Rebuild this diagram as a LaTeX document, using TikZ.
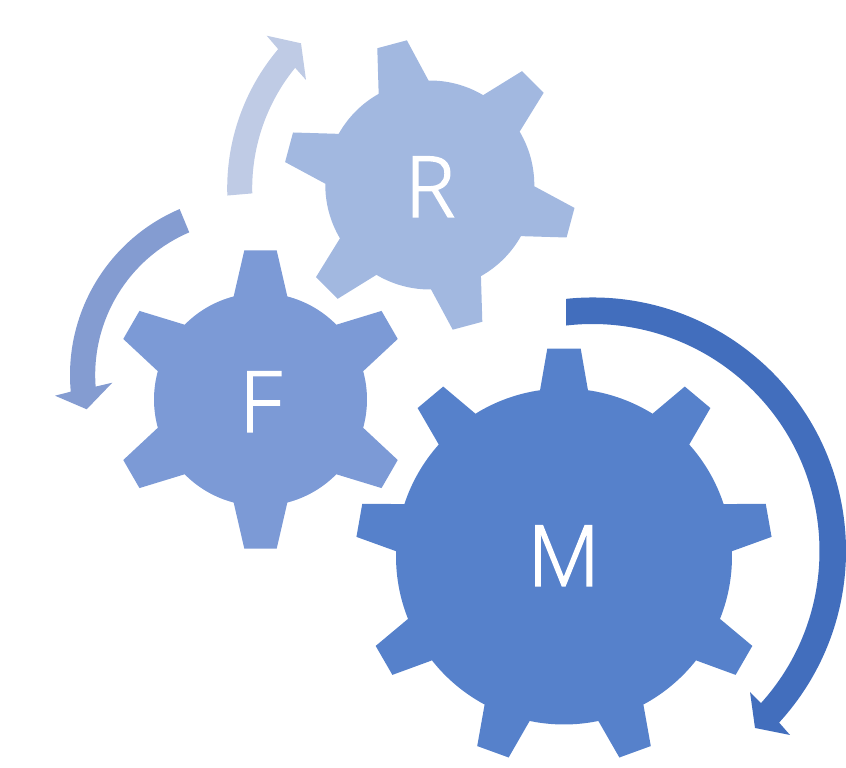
\documentclass[tikz,border=0pt]{standalone}
\usepackage{fontspec}
\setmainfont{Open Sans Light}[FakeBold=2]
\definecolor{gearM}{HTML}{5681CB}
\definecolor{gearF}{HTML}{7C9AD6}
\definecolor{gearR}{HTML}{A2B8E0}
\definecolor{arrM}{HTML}{426EBD}
\definecolor{arrF}{HTML}{849CD1}
\definecolor{arrR}{HTML}{BFCBE5}
\tikzset{geartext/.style={text=white,inner sep=0pt,anchor=base,font=\fontsize{#1}{#1}\selectfont}}
% #1 cx, #2 cy, #3 body r, #4 tip r, #5 base half angle, #6 tip half angle, #7 step, #8 first tooth angle, #9 colour
\newcommand{\gearshape}[9]{%
  \begin{scope}[shift={(#1,#2)}]
    \pgfmathsetmacro{\gsecond}{#8-#7}
    \pgfmathsetmacro{\glast}{#8-360+#7}
    \fill[#9] (#8+#5:#3pt)
      \foreach \ga in {#8,\gsecond,...,\glast}{
        -- (\ga+#6:#4pt) -- (\ga-#6:#4pt) -- (\ga-#5:#3pt)
        arc[start angle=\ga-#5,end angle=\ga-#7+#5,radius=#3pt]
      } -- cycle;
  \end{scope}}
\begin{document}
\begin{tikzpicture}[x=1pt,y=1pt]
\useasboundingbox (0,0) rectangle (846,768);
\gearshape{564}{211.5}{168}{208.5}{8.2}{4.6}{40}{90}{gearM}
\gearshape{260.5}{368.5}{106.5}{150}{14.6}{6.2}{60}{90}{gearF}
\gearshape{429.8}{583}{104.5}{146.5}{14.3}{6}{60}{105}{gearR}
\node[geartext=84] (tM) at (563.7,182.3) {M};
\node[geartext=84] (tF) at (260.5,336.3) {F};
\node[geartext=84] (tR) at (430,551.3) {R};
% arrows
\coordinate (cM) at (592.5,217);
\coordinate (cF) at (250.4,393);
\coordinate (cR) at (443,579.6);
\coordinate (hM1) at (790,33);
\coordinate (hM2) at (755,40);
\coordinate (hM3) at (750,76);
\coordinate (hF1) at (55,372.3);
\coordinate (hF2) at (86.7,358.7);
\coordinate (hF3) at (112.3,385.3);
\coordinate (hR1) at (266.7,732.3);
\coordinate (hR2) at (301,724.7);
\coordinate (hR3) at (306,688);
\fill[arrM] ([shift={(96:253.5pt)}]cM) arc[start angle=96,end angle=-42.6,radius=253.5pt]
  -- (hM1) -- (hM2) -- (hM3) -- ([shift={(-42.1:227pt)}]cM)
  arc[start angle=-42.1,end angle=96.7,radius=227pt] -- cycle;
\fill[arrF] ([shift={(113.1:180.4pt)}]cF) arc[start angle=113.1,end angle=185.3,radius=180.4pt]
  -- (hF1) -- (hF2) -- (hF3) -- ([shift={(184.3:155.2pt)}]cF)
  arc[start angle=184.3,end angle=113.2,radius=155.2pt] -- cycle;
\fill[arrR] ([shift={(181.9:215.8pt)}]cR) arc[start angle=181.9,end angle=139.8,radius=215.8pt]
  -- (hR1) -- (hR2) -- (hR3) -- ([shift={(140.8:190.8pt)}]cR)
  arc[start angle=140.8,end angle=181.5,radius=190.8pt] -- cycle;
\end{tikzpicture}
\end{document}
